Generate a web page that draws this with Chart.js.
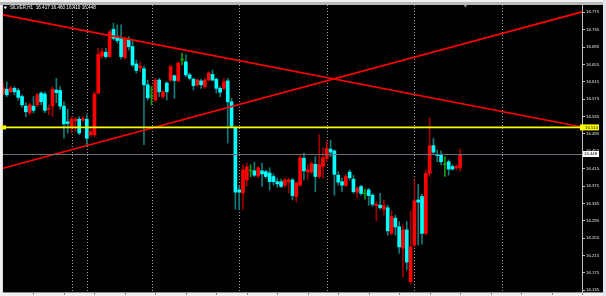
<!DOCTYPE html>
<html><head><meta charset="utf-8">
<script src="https://cdn.jsdelivr.net/npm/chart.js@4.4.1/dist/chart.umd.min.js"></script>
<style>
html,body{margin:0;padding:0;background:#f0f0f0;overflow:hidden;}
canvas{display:block;}
</style></head><body>
<canvas id="c" width="606" height="296"></canvas>
<script>
const symbol = 'SILVER,H1';
const opens = [16.587,16.598,16.592,16.600,16.595,16.581,16.559,16.544,16.559,16.562,16.589,16.587,16.552,16.559,16.596,16.595,16.559,16.523,16.512,16.525,16.529,16.527,16.529,16.493,16.493,16.589,16.674,16.683,16.673,16.736,16.719,16.715,16.671,16.711,16.696,16.656,16.647,16.645,16.608,16.581,16.573,16.619,16.581,16.612,16.619,16.629,16.617,16.665,16.661,16.631,16.621,16.608,16.617,16.604,16.619,16.632,16.621,16.600,16.600,16.617,16.569,16.509,16.366,16.359,16.389,16.410,16.410,16.398,16.410,16.408,16.405,16.397,16.385,16.385,16.377,16.385,16.389,16.351,16.377,16.439,16.408,16.407,16.425,16.397,16.420,16.439,16.460,16.456,16.400,16.385,16.376,16.407,16.391,16.361,16.374,16.357,16.366,16.354,16.330,16.331,16.322,16.325,16.266,16.301,16.281,16.232,16.274,16.155,16.239,16.343,16.351,16.266,16.404,16.468,16.448,16.448,16.424,16.431,16.420,16.417,16.417];
const highs = [16.615,16.615,16.605,16.604,16.600,16.585,16.567,16.566,16.581,16.589,16.592,16.592,16.562,16.604,16.623,16.604,16.569,16.552,16.535,16.533,16.535,16.535,16.539,16.508,16.592,16.692,16.692,16.692,16.734,16.750,16.746,16.746,16.719,16.719,16.711,16.665,16.661,16.651,16.619,16.604,16.623,16.623,16.596,16.615,16.654,16.631,16.661,16.681,16.677,16.635,16.624,16.621,16.621,16.623,16.638,16.642,16.624,16.604,16.623,16.623,16.577,16.513,16.374,16.424,16.428,16.424,16.430,16.420,16.428,16.412,16.417,16.403,16.393,16.391,16.393,16.393,16.393,16.385,16.447,16.451,16.424,16.431,16.443,16.493,16.463,16.479,16.481,16.458,16.408,16.393,16.402,16.412,16.400,16.374,16.377,16.368,16.370,16.358,16.339,16.358,16.343,16.331,16.318,16.308,16.293,16.285,16.293,16.318,16.389,16.379,16.356,16.412,16.532,16.485,16.458,16.456,16.443,16.435,16.424,16.424,16.460];
const lows = [16.585,16.581,16.590,16.585,16.573,16.556,16.535,16.539,16.543,16.558,16.562,16.544,16.539,16.536,16.567,16.552,16.485,16.497,16.497,16.500,16.493,16.523,16.470,16.489,16.489,16.587,16.669,16.669,16.671,16.711,16.704,16.667,16.667,16.688,16.650,16.635,16.638,16.470,16.573,16.562,16.569,16.581,16.577,16.573,16.615,16.577,16.615,16.654,16.626,16.619,16.596,16.604,16.600,16.600,16.617,16.617,16.589,16.581,16.596,16.474,16.511,16.322,16.320,16.322,16.375,16.396,16.397,16.394,16.374,16.393,16.366,16.377,16.372,16.372,16.372,16.359,16.343,16.338,16.374,16.389,16.389,16.404,16.362,16.393,16.393,16.431,16.443,16.354,16.377,16.362,16.374,16.389,16.358,16.347,16.354,16.345,16.331,16.328,16.295,16.322,16.308,16.262,16.262,16.262,16.220,16.166,16.182,16.149,16.235,16.239,16.241,16.262,16.397,16.447,16.431,16.424,16.397,16.400,16.412,16.412,16.410];
const closes = [16.601,16.585,16.601,16.592,16.579,16.562,16.546,16.562,16.549,16.585,16.569,16.549,16.554,16.598,16.590,16.559,16.518,16.519,16.529,16.529,16.497,16.530,16.485,16.500,16.587,16.678,16.684,16.673,16.730,16.715,16.710,16.673,16.715,16.696,16.654,16.641,16.651,16.608,16.578,16.581,16.619,16.592,16.592,16.592,16.650,16.618,16.658,16.665,16.631,16.623,16.606,16.619,16.608,16.619,16.635,16.619,16.600,16.591,16.615,16.569,16.513,16.361,16.361,16.412,16.419,16.410,16.400,16.417,16.403,16.397,16.385,16.385,16.380,16.374,16.389,16.389,16.353,16.382,16.440,16.410,16.412,16.427,16.397,16.424,16.440,16.462,16.453,16.402,16.384,16.377,16.397,16.394,16.362,16.370,16.358,16.357,16.353,16.333,16.333,16.325,16.330,16.272,16.305,16.281,16.235,16.274,16.200,16.235,16.341,16.338,16.266,16.404,16.468,16.453,16.445,16.431,16.424,16.414,16.414,16.420,16.448];
const yTicks = [16.775,16.735,16.695,16.655,16.615,16.575,16.535,16.495,16.455,16.415,16.375,16.335,16.295,16.255,16.215,16.175,16.135];
const separators = [18,22,39,62,85,108,131];
const trendA = [16.769, 16.511];
const trendB = [16.416, 16.776];
const levelLine = 16.510;
const bidLine = 16.448;
const slotCount = 153;
const yMin = 16.1311, yMax = 16.7918;

const UP_BODY='#ff0000', UP_WICK='#a00000', DN_BODY='#00ffff', DN_WICK='#127a7a', DOJI='#0b9a0b';
const labels = Array.from({length: slotCount}, (_, i) => String(i));
const dir = opens.map((o,i)=> closes[i] > o ? 1 : (closes[i] < o ? -1 : 0));
const bodyCol = dir.map(d => d>0?UP_BODY:(d<0?DN_BODY:DOJI));
const wickCol = dir.map(d => d>0?UP_WICK:(d<0?DN_WICK:DOJI));
function endpoints(pair){ const a = new Array(slotCount).fill(null); a[0]=pair[0]; a[slotCount-1]=pair[1]; return a; }
const FONT = '"Liberation Sans", Arial, sans-serif';

const framePlugin = {
  id:'frame',
  beforeDraw(chart){
    const ctx = chart.ctx, W = chart.width, H = chart.height, ca = chart.chartArea;
    ctx.save();
    ctx.fillStyle = '#f0f0f0'; ctx.fillRect(0,0,W,H);
    ctx.fillStyle = '#b8b8b8'; ctx.fillRect(0,2,W,3);
    ctx.fillStyle = '#000'; ctx.fillRect(ca.left, ca.top, W-3-ca.left, ca.bottom-ca.top);
    ctx.fillStyle = '#d8d8d8'; ctx.fillRect(ca.left-1, ca.top, 1, ca.bottom-ca.top);
    ctx.fillStyle = '#8c8c8c'; ctx.fillRect(ca.left, ca.bottom, W-3-ca.left, 1);
    ctx.fillStyle = '#dfe6ee'; ctx.fillRect(W-3, 0, 3, H);
    // bottom tick marks every 8 bars
    const xs = chart.scales.x;
    ctx.fillStyle = '#8c8c8c';
    for (let i = 8; i < slotCount; i += 8) {
      const px = Math.round(xs.getPixelForValue(i));
      ctx.fillRect(px, ca.bottom, 1, 3);
    }
    ctx.restore();
  },
  beforeDatasetsDraw(chart){
    const ctx = chart.ctx, ca = chart.chartArea, xs = chart.scales.x;
    ctx.save();
    ctx.strokeStyle = '#9a9a9a'; ctx.lineWidth = 1; ctx.setLineDash([1,2]);
    separators.forEach(s => {
      const px = Math.round(xs.getPixelForValue(s)) + 0.5;
      ctx.beginPath(); ctx.moveTo(px, ca.top); ctx.lineTo(px, ca.bottom); ctx.stroke();
    });
    ctx.restore();
  },
  afterDatasetsDraw(chart){
    const ctx = chart.ctx, ca = chart.chartArea, xs = chart.scales.x, ys = chart.scales.y;
    ctx.save();
    // bid line
    const yb = Math.round(ys.getPixelForValue(bidLine)) + 0.5;
    ctx.strokeStyle = '#66707a'; ctx.lineWidth = 1;
    ctx.beginPath(); ctx.moveTo(ca.left, yb); ctx.lineTo(ca.right, yb); ctx.stroke();
    // level line
    const yl = ys.getPixelForValue(levelLine);
    ctx.strokeStyle = '#ffff00'; ctx.lineWidth = 1.6;
    ctx.beginPath(); ctx.moveTo(ca.left, yl); ctx.lineTo(ca.right, yl); ctx.stroke();
    ctx.fillStyle = '#ffff00'; ctx.fillRect(1, yl-2, 5, 4);
    // axis labels
    ctx.font = '4.3px ' + FONT; ctx.textBaseline = 'middle'; ctx.textAlign = 'left';
    ctx.fillStyle = '#ffff00'; ctx.fillRect(ca.right-2, yl-3, 19, 6);
    ctx.fillStyle = '#000'; ctx.fillText(levelLine.toFixed(3), ca.right+3, yl);
    ctx.fillStyle = '#ffffff'; ctx.fillRect(ca.right+1, yb-3.5, 16, 6);
    ctx.fillStyle = '#000'; ctx.fillText(bidLine.toFixed(3), ca.right+2, yb-0.5);
    // header
    const n = opens.length - 1;
    ctx.fillStyle = '#ffffff';
    ctx.beginPath(); ctx.moveTo(3.5,6.5); ctx.lineTo(7,6.5); ctx.lineTo(5.25,9.2); ctx.closePath(); ctx.fill();
    ctx.font = '4.6px ' + FONT; ctx.textBaseline = 'middle';
    ctx.fillText(symbol + '  ' + [opens[n], highs[n], lows[n], closes[n]].map(v=>v.toFixed(3)).join(' '), 10, 8.2);
    // chart shift marker
    const mx = xs.getPixelForValue(opens.length + 0.4);
    ctx.fillStyle = '#8a8a8a';
    ctx.beginPath(); ctx.moveTo(mx-1.8, 5); ctx.lineTo(mx+1.8, 5); ctx.lineTo(mx, 7.5); ctx.closePath(); ctx.fill();
    ctx.restore();
  }
};

new Chart(document.getElementById('c'), {
  type: 'bar',
  data: {
    labels,
    datasets: [
      { type:'bar', data: lows.map((l,i)=>[l, highs[i]]), backgroundColor: wickCol, barThickness: 1, grouped:false, order:3, borderWidth:0 },
      { type:'bar', data: opens.map((o,i)=>[o, closes[i]]), backgroundColor: bodyCol, barThickness: 3, minBarLength: 1, grouped:false, order:2, borderWidth:0 },
      { type:'line', data: endpoints(trendA), borderColor:'#ff0000', borderWidth:1.7, pointRadius:0, spanGaps:true, order:1, fill:false },
      { type:'line', data: endpoints(trendB), borderColor:'#ff0000', borderWidth:1.7, pointRadius:0, spanGaps:true, order:1, fill:false }
    ]
  },
  options: {
    responsive:false, animation:false, devicePixelRatio:1,
    layout:{ padding:{ left:3, top:5, right:3, bottom:4 } },
    plugins:{ legend:{display:false}, tooltip:{enabled:false} },
    scales:{
      x:{ type:'category', offset:false, display:false, grid:{display:false} },
      y:{ position:'right', min:yMin, max:yMax,
          afterBuildTicks: s => { s.ticks = yTicks.map(v => ({value:v})); },
          afterFit: s => { s.width = 21; },
          ticks:{ color:'#e8e8e8', autoSkip:false, padding:1, font:{ size:4.3, family: FONT }, callback: v => Number(v).toFixed(3) },
          grid:{ drawOnChartArea:false, color:'#c0c0c0', tickLength:3 },
          border:{ color:'#c0c0c0' }
      }
    }
  },
  plugins:[framePlugin]
});
</script>
</body></html>
